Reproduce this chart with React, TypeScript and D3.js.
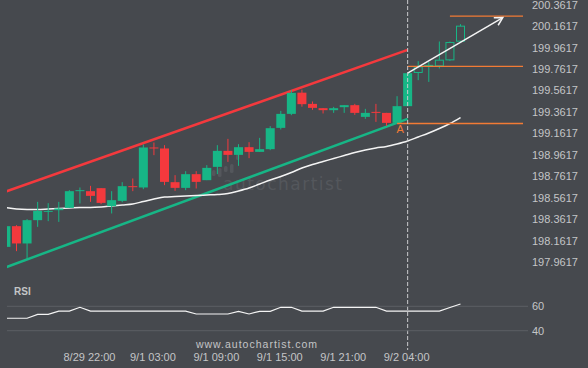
import React from 'react';
import { scaleLinear, line, curveMonotoneX } from 'd3';

// OHLC per hourly candle (index = position on the time axis)
const opens = [
  198.1055, 198.2985, 198.1372, 198.3544, 198.4336, 198.4476, 198.469, 198.6247, 198.6247, 198.6526,
  198.4849, 198.5343, 198.6713, 198.6591, 199.0319, 199.0226, 198.7085, 198.6554, 198.7831, 198.7272,
  198.8511, 199.0003, 198.963, 199.0347, 198.9909, 199.0161, 199.2146, 199.3451, 199.5427, 199.4383,
  199.3982, 199.3796, 199.4075, 199.4262, 199.3171, 199.3637, 199.3544, 199.2612, 199.4169,
  199.731, 199.7878, 199.7924, 199.8484, 200.0227,
];
const closes = [
  198.2985, 198.1372, 198.3544, 198.4411, 198.4411, 198.4634, 198.6247, 198.634, 198.5809, 198.5156,
  198.5408, 198.6713, 198.6619, 199.0319, 199.0226, 198.7113, 198.6554, 198.7831, 198.7113, 198.8418,
  199.0003, 198.963, 199.0347, 198.9909, 199.0161, 199.2118, 199.3451, 199.5408, 199.4355, 199.401,
  199.3796, 199.3982, 199.4262, 199.3544, 199.3544, 199.3544, 199.2612, 199.4169, 199.7244,
  199.7831, 199.7971, 199.8456, 200.0105, 200.1625,
];
const highs = [
  198.2985, 198.3078, 198.364, 198.5249, 198.5128, 198.5249, 198.634, 198.6591, 198.6741, 198.6526,
  198.6247, 198.7085, 198.743, 199.0599, 199.0785, 199.0534, 198.7738, 198.8111, 198.8111, 198.867,
  199.0534, 199.1121, 199.0627, 199.0813, 199.1214, 199.2305, 199.3731, 199.566, 199.5706, 199.4607,
  199.3982, 199.4103, 199.4262, 199.4383, 199.3917, 199.4383, 199.3544, 199.5101, 199.7272,
  199.8363, 199.8297, 200.0199, 200.0199, 200.1811,
];
const lows = [
  198.1055, 198.0655, 197.9909, 198.2919, 198.3451, 198.3385, 198.469, 198.51, 198.5249, 198.5035,
  198.4168, 198.5221, 198.6247, 198.6433, 198.9602, 198.6806, 198.6275, 198.634, 198.6498, 198.7272,
  198.7831, 198.8977, 198.8605, 198.9322, 198.9909, 199.0068, 199.1997, 199.333, 199.4122, 199.3824,
  199.3488, 199.3544, 199.3544, 199.3358, 199.2985, 199.2705, 199.2333, 199.2556, 199.4169,
  199.6592, 199.6433, 199.7682, 199.8391, 200.0133,
];
// candles drawn after the pattern completed (hollow)
const firstHollow = 39;

const maValues = [
  198.4724, 198.4584, 198.4538, 198.4538, 198.4584, 198.4631, 198.4678, 198.4724, 198.4724, 198.4771,
  198.4864, 198.4957, 198.505, 198.5283, 198.5516, 198.5703, 198.5749, 198.5796, 198.5842, 198.5889,
  198.5936, 198.6029, 198.6262, 198.6542, 198.6914, 198.7287, 198.7613, 198.7986, 198.8405, 198.8732,
  198.9011, 198.9291, 198.957, 198.985, 199.0083, 199.0269, 199.0409, 199.0642, 199.0922, 199.1295,
  199.1667, 199.2087, 199.2553, 199.3112,
];

const rsiValues = [
  50.2, 50.2, 50.2, 53.4, 53.4, 56.1, 56.1, 59.2, 56.1, 56.1,
  56.1, 56.1, 56.1, 56.1, 56.1, 56.1, 56.1, 56.1, 53.7, 53.7,
  53.7, 53.7, 55.9, 53.7, 55.9, 55.9, 59.2, 59.2, 56.1, 56.1,
  56.1, 59.2, 59.2, 59.2, 59.2, 59.2, 56.1, 56.1, 56.1, 56.1,
  56.1, 56.1, 59.0, 61.9,
];

// channel lines: [index, price]
const resistance: [number, number][] = [[0, 198.6212], [38, 199.941]];
const support: [number, number][] = [[0, 197.9156], [38, 199.298]];
// target levels: [startIndex, endIndex, price]
const levels: [number, number, number][] = [
  [42, 49, 200.2556],
  [38, 49, 199.787],
  [37, 49, 199.2556],
];
const arrowFrom: [number, number] = [38, 199.7244];
const arrowTo: [number, number] = [47, 200.243];
const breakoutIndex = 38;

const priceTicks = [
  200.3617, 200.1617, 199.9617, 199.7617, 199.5617, 199.3617, 199.1617,
  198.9617, 198.7617, 198.5617, 198.3617, 198.1617, 197.9617,
];
const rsiTicks = [60, 40];
const timeTickIdx = [8, 14, 20, 26, 32, 38];
const timeTickLabels = ['8/29 22:00', '9/1 03:00', '9/1 09:00', '9/1 15:00', '9/1 21:00', '9/2 04:00'];

const W = 588;
const H = 368;
const BG = '#46494e';
const TXT = '#c4c5c7';
const GREEN = '#17b686';
const RED = '#f4393d';
const ORANGE = '#f27b35';
const FONT = 'Liberation Sans, Arial, sans-serif';

export default function App() {
  const x = scaleLinear().domain([0, 43]).range([5.93, 460.5]);
  const y = scaleLinear().domain([197.9617, 200.3617]).range([262.3, 4.8]);
  const yr = scaleLinear().domain([40, 60]).range([330.7, 306.3]);
  const plotLeft = 7;
  const plotRight = 528;
  const bodyW = 9;

  const maPath = line<number>()
    .x((_, i) => x(i))
    .y(d => y(d))
    .curve(curveMonotoneX)(maValues) || '';
  const rsiPath = line<number>()
    .x((_, i) => x(i))
    .y(d => yr(d))(rsiValues) || '';
  const seg = (pts: [number, number][]) =>
    line<[number, number]>().x(d => x(d[0])).y(d => y(d[1]))(pts) || '';

  const ax = x(arrowFrom[0]), ay = y(arrowFrom[1]);
  const bx = x(arrowTo[0]), by = y(arrowTo[1]);
  const ang = Math.atan2(by - ay, bx - ax);
  const headLen = 9;
  const head = [ang + Math.PI - 0.5, ang + Math.PI + 0.5].map(a => [bx + headLen * Math.cos(a), by + headLen * Math.sin(a)]);

  return (
    <div style={{ position: 'fixed', left: 0, top: 0, width: W, height: H }}>
      <svg width={W} height={H} style={{ display: 'block', fontFamily: FONT }}>
        <defs>
          <clipPath id="plot">
            <rect x={plotLeft} y={0} width={plotRight - plotLeft} height={280} />
          </clipPath>
          <clipPath id="rsi">
            <rect x={plotLeft} y={290} width={plotRight - plotLeft} height={50} />
          </clipPath>
        </defs>
        <rect width={W} height={H} fill={BG} />

        {/* watermark */}
        <g fill="#54575c">
          {[0, 1, 2, 3, 4].map(k => (
            <rect key={k} x={212 + k * 6} y={170 - k * 2 - (k === 4 ? 8 : 0)} width={3.5} height={6 + (k % 2) * 3} rx={1.5} />
          ))}
          <text x={223} y={190} fontSize={17} textLength={119} lengthAdjust="spacing" fontFamily="DejaVu Sans, sans-serif">autochartist</text>
        </g>

        <g clipPath="url(#plot)">
          <path d={seg(resistance)} stroke={RED} strokeWidth={2.5} fill="none" />
          <path d={seg(support)} stroke={GREEN} strokeWidth={2.5} fill="none" />
          <path d={maPath} stroke="#f4f4f4" strokeWidth={1.5} fill="none" />

          {opens.map((o, i) => {
            const c = closes[i];
            const up = c >= o;
            const col = up ? GREEN : RED;
            const hollow = i >= firstHollow;
            const top = y(Math.max(o, c));
            const bot = y(Math.min(o, c));
            const h = Math.max(1, bot - top);
            const cx = x(i);
            return (
              <g key={i}>
                <line x1={cx} x2={cx} y1={y(highs[i])} y2={y(lows[i])} stroke={col} strokeWidth={1} />
                {hollow ? (
                  <rect x={cx - bodyW / 2 + 0.5} y={top} width={bodyW - 1} height={h} fill={BG} stroke={col} strokeWidth={1} />
                ) : (
                  <rect x={cx - bodyW / 2} y={top} width={bodyW} height={h} fill={col} />
                )}
              </g>
            );
          })}

          {levels.map(([s, e, v], k) => (
            <line key={k} x1={x(s)} x2={Math.min(x(e), plotRight - 5)} y1={y(v)} y2={y(v)} stroke={ORANGE} strokeWidth={1.3} />
          ))}
          <line x1={ax} y1={ay} x2={bx} y2={by} stroke="#f4f4f4" strokeWidth={1.5} />
          <polyline
            points={`${head[0][0]},${head[0][1]} ${bx},${by} ${head[1][0]},${head[1][1]}`}
            fill="none" stroke="#f4f4f4" strokeWidth={1.5}
          />
          <text x={x(37.3)} y={y(levels[2][2]) + 10} fontSize={11} fill={ORANGE} textAnchor="middle">A</text>
        </g>

        <line x1={x(breakoutIndex)} x2={x(breakoutIndex)} y1={0} y2={350} stroke="#c9cacc" strokeWidth={1} strokeDasharray="4,2" />

        {priceTicks.map(t => (
          <text key={t} x={532} y={y(t)} dy="0.35em" fontSize={11} fill={TXT}>{t.toFixed(4)}</text>
        ))}

        {/* RSI panel */}
        <text x={14} y={295} fontSize={10} fontWeight="bold" fill={TXT}>RSI</text>
        {rsiTicks.map(t => (
          <g key={t}>
            <line x1={plotLeft} x2={plotRight} y1={yr(t)} y2={yr(t)} stroke="#5c5f64" strokeWidth={1} />
            <text x={532} y={yr(t)} dy="0.35em" fontSize={11} fill={TXT}>{t}</text>
          </g>
        ))}
        <g clipPath="url(#rsi)">
          <path d={rsiPath} stroke="#f4f4f4" strokeWidth={1.2} fill="none" />
        </g>

        <text x={257} y={348} fontSize={10.5} fill={TXT} textAnchor="middle" letterSpacing={1}>www.autochartist.com</text>
        {timeTickIdx.map((ti, k) => (
          <text key={ti} x={x(ti) - 1} y={361} fontSize={11} fill={TXT} textAnchor="middle">{timeTickLabels[k]}</text>
        ))}
      </svg>
    </div>
  );
}
